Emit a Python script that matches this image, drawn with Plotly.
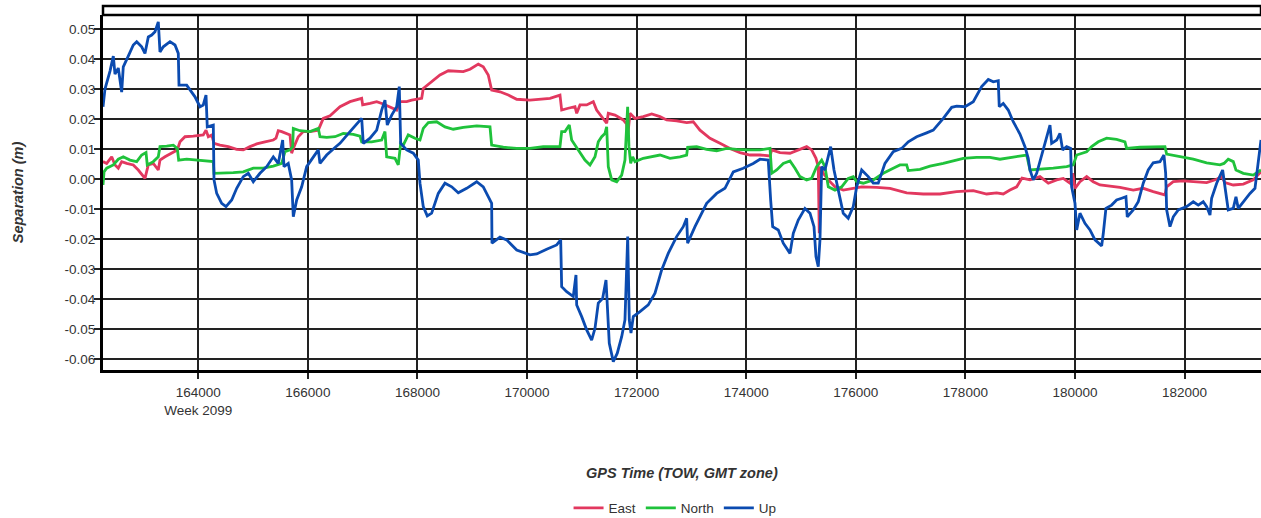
import plotly.graph_objects as go

# ---- data (GPS TOW seconds, separation in metres) ----
east_x = [162261, 162328, 162420, 162480, 162540, 162602, 162693, 162814, 162905, 163027,
          163088, 163179, 163270, 163301, 163392, 163514, 163617, 163666, 163757, 163909,
          164091, 164141, 164183, 164245, 164287, 164396, 164548, 164701, 164821, 164944,
          165066, 165217, 165369, 165418, 165460, 165522, 165613, 165674, 165704, 165734,
          165825, 165916, 166039, 166190, 166281, 166404, 166586, 166769, 166982, 167000,
          167134, 167256, 167376, 167499, 167621, 167681, 167803, 167894, 168077, 168106,
          168229, 168411, 168563, 168836, 168959, 169110, 169201, 169292, 169354, 169506,
          169658, 169811, 170053, 170296, 170419, 170601, 170632, 170752, 170875, 170906,
          170966, 171088, 171209, 171270, 171362, 171453, 171483, 171605, 171756, 171818,
          171836, 171878, 171970, 172121, 172275, 172426, 172548, 172731, 172913, 173033,
          173156, 173339, 173521, 173704, 173886, 174069, 174251, 174434, 174465, 174616,
          174799, 174950, 175103, 175194, 175273, 175315, 175333, 175358, 175406, 175498,
          175620, 175771, 175954, 176107, 176381, 176624, 176928, 177231, 177536, 177840,
          178144, 178388, 178570, 178691, 178814, 178936, 179033, 179179, 179361, 179513,
          179666, 179786, 179909, 179958, 180000, 180091, 180213, 180333, 180456, 180578,
          180821, 181064, 181246, 181428, 181642, 181673, 181794, 181977, 182220, 182403,
          182586, 182677, 182737, 182889, 183072, 183254, 183395]
east_y = [0.0058, 0.0052, 0.0074, 0.0047, 0.0036, 0.0058, 0.0052, 0.0047, 0.0030, 0.0002,
          0.0047, 0.0052, 0.0030, 0.0063, 0.0074, 0.0086, 0.0097, 0.0124, 0.0141, 0.0143,
          0.0147, 0.0163, 0.0141, 0.0147, 0.0119, 0.0113, 0.0108, 0.0099, 0.0097, 0.0108,
          0.0117, 0.0124, 0.0130, 0.0136, 0.0161, 0.0158, 0.0152, 0.0147, 0.0086, 0.0102,
          0.0141, 0.0158, 0.0158, 0.0163, 0.0202, 0.0211, 0.0241, 0.0258, 0.0269, 0.0247,
          0.0252, 0.0258, 0.0250, 0.0241, 0.0230, 0.0258, 0.0258, 0.0263, 0.0269, 0.0302,
          0.0319, 0.0347, 0.0361, 0.0358, 0.0366, 0.0383, 0.0374, 0.0347, 0.0297, 0.0291,
          0.0280, 0.0266, 0.0263, 0.0266, 0.0269, 0.0280, 0.0230, 0.0236, 0.0241, 0.0219,
          0.0247, 0.0247, 0.0258, 0.0230, 0.0208, 0.0186, 0.0219, 0.0213, 0.0197, 0.0183,
          0.0141, 0.0219, 0.0202, 0.0208, 0.0217, 0.0208, 0.0197, 0.0194, 0.0188, 0.0191,
          0.0163, 0.0136, 0.0119, 0.0102, 0.0088, 0.0080, 0.0080, 0.0077, 0.0097, 0.0088,
          0.0086, 0.0097, 0.0108, 0.0097, 0.0069, 0.0041, -0.0181, 0.0041, 0.0019, -0.0003,
          -0.0026, -0.0037, -0.0031, -0.0026, -0.0028, -0.0031, -0.0046, -0.0050, -0.0050, -0.0042,
          -0.0039, -0.0050, -0.0046, -0.0050, -0.0037, -0.0026, 0.0003, -0.0003, 0.0008, -0.0014,
          -0.0003, 0.0002, -0.0014, 0.0019, -0.0031, -0.0009, 0.0008, -0.0009, -0.0020, -0.0023,
          -0.0028, -0.0037, -0.0031, -0.0042, -0.0053, -0.0026, -0.0009, -0.0006, -0.0009, -0.0012,
          -0.0001, 0.0008, -0.0012, -0.0020, -0.0017, -0.0003, 0.0024]

north_x = [162261, 162280, 162328, 162449, 162540, 162631, 162754, 162876, 162967, 163046,
           163069, 163179, 163270, 163301, 163423, 163544, 163617, 163642, 163788, 163971,
           164153, 164274, 164287, 164456, 164639, 164821, 165004, 165186, 165369, 165522,
           165582, 165674, 165723, 165734, 165856, 166039, 166190, 166221, 166343, 166495,
           166646, 166829, 166951, 166982, 167164, 167347, 167407, 167438, 167590, 167650,
           167694, 167741, 167832, 167955, 168046, 168106, 168198, 168351, 168502, 168654,
           168836, 169081, 169324, 169354, 169566, 169811, 170053, 170296, 170601, 170632,
           170692, 170771, 170814, 170935, 171057, 171149, 171240, 171300, 171362, 171422,
           171453, 171483, 171545, 171636, 171727, 171787, 171818, 171836, 171860, 171891,
           171928, 171970, 172121, 172304, 172426, 172609, 172791, 172913, 172931, 173096,
           173278, 173461, 173643, 173826, 174008, 174251, 174434, 174465, 174556, 174676,
           174799, 174890, 174981, 175103, 175194, 175285, 175377, 175437, 175498, 175620,
           175742, 175862, 175954, 176016, 176137, 176319, 176501, 176683, 176806, 176928,
           176958, 177171, 177354, 177597, 177779, 177961, 178205, 178448, 178631, 178814,
           179118, 179179, 179361, 179604, 179848, 179969, 180031, 180213, 180304, 180426,
           180578, 180760, 180912, 180943, 181186, 181428, 181642, 181673, 181916, 182159,
           182403, 182646, 182719, 182797, 182889, 182938, 183072, 183254, 183395]
north_y = [-0.0020, 0.0024, 0.0036, 0.0047, 0.0066, 0.0074, 0.0063, 0.0058, 0.0080, 0.0088,
           0.0047, 0.0058, 0.0074, 0.0108, 0.0110, 0.0113, 0.0102, 0.0063, 0.0066, 0.0063,
           0.0061, 0.0058, 0.0019, 0.0019, 0.0021, 0.0024, 0.0036, 0.0036, 0.0043, 0.0052,
           0.0091, 0.0097, 0.0108, 0.0169, 0.0161, 0.0158, 0.0169, 0.0141, 0.0139, 0.0141,
           0.0152, 0.0149, 0.0143, 0.0124, 0.0124, 0.0130, 0.0158, 0.0074, 0.0069, 0.0047,
           0.0119, 0.0113, 0.0147, 0.0136, 0.0130, 0.0169, 0.0188, 0.0191, 0.0174, 0.0166,
           0.0172, 0.0177, 0.0174, 0.0113, 0.0106, 0.0102, 0.0102, 0.0108, 0.0108, 0.0158,
           0.0158, 0.0180, 0.0130, 0.0097, 0.0063, 0.0047, 0.0074, 0.0124, 0.0141, 0.0152,
           0.0174, 0.0041, -0.0003, -0.0009, 0.0013, 0.0063, 0.0152, 0.0241, 0.0108, 0.0052,
           0.0074, 0.0058, 0.0069, 0.0077, 0.0080, 0.0069, 0.0074, 0.0080, 0.0106, 0.0108,
           0.0099, 0.0094, 0.0102, 0.0099, 0.0097, 0.0097, 0.0102, 0.0019, 0.0030, 0.0052,
           0.0060, 0.0036, 0.0008, -0.0003, 0.0002, 0.0041, 0.0063, 0.0041, -0.0026, -0.0037,
           -0.0026, 0.0002, 0.0008, -0.0009, -0.0014, -0.0003, 0.0019, 0.0036, 0.0047, 0.0047,
           0.0028, 0.0032, 0.0043, 0.0052, 0.0061, 0.0069, 0.0072, 0.0072, 0.0066, 0.0072,
           0.0080, 0.0030, 0.0032, 0.0036, 0.0041, 0.0047, 0.0080, 0.0091, 0.0108, 0.0124,
           0.0136, 0.0132, 0.0124, 0.0102, 0.0106, 0.0106, 0.0108, 0.0083, 0.0074, 0.0066,
           0.0054, 0.0047, 0.0052, 0.0066, 0.0058, 0.0030, 0.0019, 0.0013, 0.0030]

up_x = [162261, 162297, 162389, 162449, 162480, 162540, 162602, 162631, 162722, 162814,
        162876, 162967, 163027, 163088, 163150, 163210, 163270, 163301, 163361, 163484,
        163575, 163635, 163648, 163788, 163940, 164031, 164091, 164141, 164164, 164274,
        164287, 164336, 164427, 164506, 164610, 164701, 164821, 164913, 165004, 165126,
        165248, 165369, 165460, 165540, 165564, 165642, 165704, 165734, 165796, 165887,
        165978, 166099, 166190, 166221, 166343, 166495, 166586, 166769, 166982, 167011,
        167134, 167256, 167347, 167407, 167449, 167530, 167621, 167668, 167694, 167803,
        167924, 168015, 168046, 168106, 168179, 168259, 168380, 168502, 168625, 168745,
        168898, 169081, 169201, 169292, 169354, 169360, 169506, 169628, 169811, 170053,
        170176, 170358, 170541, 170614, 170632, 170723, 170844, 170893, 170906, 170997,
        171088, 171179, 171240, 171300, 171380, 171441, 171465, 171501, 171574, 171647,
        171727, 171787, 171837, 171866, 171897, 171939, 172061, 172212, 172335, 172457,
        172577, 172730, 172851, 172913, 172931, 173065, 173278, 173461, 173612, 173764,
        173946, 174128, 174251, 174402, 174446, 174483, 174585, 174676, 174799, 174859,
        174950, 175072, 175164, 175237, 175273, 175315, 175346, 175377, 175437, 175498,
        175541, 175602, 175680, 175771, 175862, 175954, 176016, 176107, 176227, 176319,
        176410, 176532, 176683, 176837, 176958, 177111, 177293, 177414, 177597, 177750,
        177841, 177992, 178144, 178297, 178418, 178509, 178600, 178618, 178691, 178782,
        178873, 178996, 179087, 179147, 179179, 179239, 179301, 179361, 179452, 179544,
        179574, 179666, 179726, 179775, 179848, 179921, 179939, 179969, 180000, 180031,
        180091, 180182, 180274, 180365, 180487, 180517, 180565, 180669, 180760, 180852,
        180930, 180954, 181063, 181155, 181246, 181337, 181428, 181551, 181624, 181655,
        181673, 181734, 181794, 181885, 182038, 182159, 182250, 182341, 182403, 182464,
        182494, 182586, 182695, 182737, 182797, 182889, 182938, 182980, 183072, 183194,
        183285, 183316, 183364, 183395]
up_y = [0.0241, 0.0300, 0.0360, 0.0410, 0.0350, 0.0370, 0.0290, 0.0374, 0.0410, 0.0447,
        0.0458, 0.0441, 0.0419, 0.0474, 0.0480, 0.0491, 0.0524, 0.0424, 0.0441, 0.0458,
        0.0447, 0.0419, 0.0313, 0.0313, 0.0274, 0.0241, 0.0247, 0.0280, 0.0174, 0.0180,
        -0.0003, -0.0048, -0.0081, -0.0092, -0.0070, -0.0031, 0.0008, 0.0019, -0.0009, 0.0019,
        0.0041, 0.0074, 0.0052, 0.0130, 0.0041, 0.0052, -0.0003, -0.0126, -0.0070, -0.0026,
        0.0041, 0.0074, 0.0097, 0.0052, 0.0080, 0.0105, 0.0119, 0.0158, 0.0202, 0.0119,
        0.0136, 0.0163, 0.0230, 0.0263, 0.0180, 0.0213, 0.0241, 0.0308, 0.0119, 0.0097,
        0.0086, 0.0063, -0.0014, -0.0092, -0.0123, -0.0114, -0.0048, -0.0014, -0.0026, -0.0046,
        -0.0031, -0.0009, -0.0026, -0.0059, -0.0081, -0.0214, -0.0194, -0.0203, -0.0237, -0.0253,
        -0.0250, -0.0234, -0.0220, -0.0203, -0.0359, -0.0376, -0.0392, -0.0320, -0.0420, -0.0459,
        -0.0503, -0.0537, -0.0498, -0.0414, -0.0398, -0.0337, -0.0426, -0.0548, -0.0609, -0.0581,
        -0.0526, -0.0470, -0.0192, -0.0470, -0.0514, -0.0459, -0.0442, -0.0420, -0.0381, -0.0303,
        -0.0248, -0.0192, -0.0159, -0.0131, -0.0214, -0.0159, -0.0081, -0.0048, -0.0031, 0.0024,
        0.0036, 0.0052, 0.0066, 0.0063, -0.0070, -0.0159, -0.0170, -0.0214, -0.0248, -0.0181,
        -0.0137, -0.0098, -0.0114, -0.0159, -0.0259, -0.0292, -0.0203, 0.0041, 0.0030, 0.0074,
        0.0108, 0.0030, -0.0037, -0.0114, -0.0131, -0.0092, -0.0026, 0.0030, 0.0008, -0.0014,
        -0.0014, 0.0052, 0.0091, 0.0102, 0.0124, 0.0141, 0.0154, 0.0163, 0.0202, 0.0239,
        0.0243, 0.0241, 0.0258, 0.0308, 0.0332, 0.0324, 0.0328, 0.0241, 0.0252, 0.0230,
        0.0191, 0.0150, 0.0108, 0.0069, 0.0030, -0.0003, 0.0019, 0.0058, 0.0119, 0.0180,
        0.0119, 0.0130, 0.0152, 0.0097, 0.0108, 0.0102, -0.0026, -0.0048, -0.0081, -0.0170,
        -0.0114, -0.0148, -0.0170, -0.0203, -0.0223, -0.0181, -0.0098, -0.0087, -0.0070, -0.0064,
        -0.0059, -0.0126, -0.0103, -0.0076, -0.0014, 0.0030, 0.0054, 0.0058, 0.0080, 0.0019,
        -0.0103, -0.0159, -0.0126, -0.0103, -0.0092, -0.0076, -0.0087, -0.0076, -0.0092, -0.0120,
        -0.0064, -0.0014, 0.0030, -0.0026, -0.0103, -0.0098, -0.0059, -0.0098, -0.0076, -0.0048,
        -0.0031, 0.0019, 0.0086, 0.0130]

x_ticks = [164000, 166000, 168000, 170000, 172000, 174000, 176000, 178000, 180000, 182000]
x_tick_text = ["164000<br>Week 2099", "166000", "168000", "170000", "172000", "174000",
               "176000", "178000", "180000", "182000"]
y_ticks = [0.05, 0.04, 0.03, 0.02, 0.01, 0.0, -0.01, -0.02, -0.03, -0.04, -0.05, -0.06]
y_tick_text = ["0.05", "0.04", "0.03", "0.02", "0.01", "0.00", "-0.01", "-0.02", "-0.03",
               "-0.04", "-0.05", "-0.06"]

series = [("East", east_x, east_y, "#e2385f"),
          ("North", north_x, north_y, "#1fc23b"),
          ("Up", up_x, up_y, "#0b4bb0")]

FONT = "Arial, 'Liberation Sans', sans-serif"
TXT = "#333333"

fig = go.Figure()
for name, xs, ys, col in series:
    fig.add_trace(go.Scatter(x=xs, y=ys, name=name, mode="lines",
                             line=dict(color=col, width=2.8), hoverinfo="skip"))

fig.update_layout(
    width=1261, height=518,
    margin=dict(l=103, r=0, t=15, b=148, autoexpand=False),
    paper_bgcolor="white", plot_bgcolor="white",
    font=dict(family=FONT, size=13.5, color=TXT),
    showlegend=True,
    legend=dict(orientation="h", x=0.494, xanchor="center", y=-0.389, yanchor="middle",
                font=dict(size=13.5, color=TXT), itemwidth=30, bgcolor="rgba(0,0,0,0)"),
    xaxis=dict(range=[162261, 183395], tickvals=x_ticks, ticktext=x_tick_text,
               showgrid=True, gridcolor="#222222", gridwidth=1.6,
               showline=True, linecolor="#000000", linewidth=3,
               ticks="outside", ticklen=6, tickwidth=1.6, tickcolor="#222222",
               ticklabelstandoff=2,
               zeroline=False, automargin=False,
               tickfont=dict(family=FONT, size=13.5, color=TXT)),
    yaxis=dict(range=[-0.0637, 0.0547], tickvals=y_ticks, ticktext=y_tick_text,
               showgrid=True, gridcolor="#222222", gridwidth=1.6,
               showline=True, linecolor="#000000", linewidth=3,
               ticks="outside", ticklen=6, tickwidth=1.6, tickcolor="#222222",
               ticklabelstandoff=-4,
               zeroline=False, automargin=False,
               tickfont=dict(family=FONT, size=13.5, color=TXT),
               title=dict(text="<b><i>Separation (m)</i></b>", standoff=38,
                          font=dict(family=FONT, size=14.5, color=TXT))),
    annotations=[dict(text="<b><i>GPS Time (TOW, GMT zone)</i></b>", xref="paper", yref="paper",
                      x=0.5, y=-0.29, xanchor="center", yanchor="middle", showarrow=False,
                      font=dict(family=FONT, size=14.5, color=TXT))],
    shapes=[dict(type="rect", xref="paper", yref="paper", x0=0, x1=1, y0=1, y1=1 + 9 / 355,
                 line=dict(color="#000000", width=2.5), fillcolor="white", layer="above")],
)

# remove the default 8px page margin so the figure fills the window exactly
fig.write_html("out.html", config={"displayModeBar": False},
               post_script="document.body.style.margin='0px';"
                           "document.documentElement.style.overflow='hidden';")
